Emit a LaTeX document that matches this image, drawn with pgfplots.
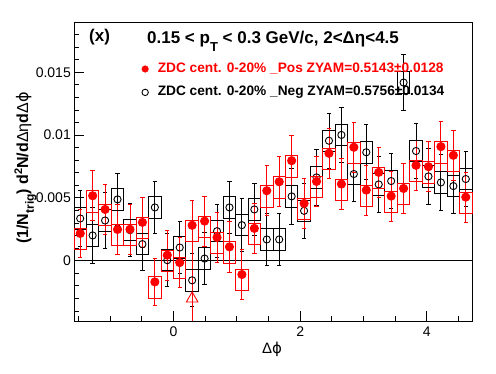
\documentclass[border=0pt]{standalone}
\usepackage{pgfplots}
\pgfplotsset{compat=1.18}
\usepackage{pgfplotstable}
\usepackage{fontspec}
\setmainfont{Liberation Sans}
\newfontfamily\djs{DejaVu Sans}

% x = bin centre, y = value, ep/em = stat. error, su/sd = box extent above/below
\pgfplotstableread{
x y ep em su sd
-1.4726 0.00217 0.0019 0.0019 0.0004 0.0013
-1.2763 0.00517 0.0020 0.0020 0.0004 0.0013
-1.0799 0.00408 0.0020 0.0020 0.0004 0.0013
-0.8836 0.00249 0.0020 0.0020 0.0004 0.0013
-0.6872 0.00250 0.0020 0.0020 0.0004 0.0013
-0.4909 0.00305 0.0020 0.0020 0.0004 0.0013
-0.2945 -0.00169 0.0019 0.0019 0.0004 0.0013
-0.0982 0.00044 0.0020 0.0020 0.0004 0.0013
0.0982 -0.00015 0.0020 0.0020 0.0004 0.0013
0.2945 0.00282 0.0020 0.0085 0.0004 0.0013
0.4909 0.00315 0.0020 0.0020 0.0004 0.0013
0.6872 0.00185 0.0020 0.0020 0.0004 0.0013
0.8836 0.00110 0.0020 0.0020 0.0004 0.0013
1.0799 -0.00110 0.0020 0.0020 0.0004 0.0013
1.2763 0.00257 0.0020 0.0020 0.0004 0.0013
1.4726 0.00557 0.0020 0.0020 0.0004 0.0013
1.6690 0.00628 0.0020 0.0020 0.0004 0.0013
1.8653 0.00796 0.0020 0.0020 0.0004 0.0013
2.0617 0.00456 0.0020 0.0020 0.0004 0.0013
2.2580 0.00631 0.0020 0.0020 0.0004 0.0013
2.4544 0.00855 0.0020 0.0020 0.0004 0.0013
2.6507 0.00610 0.0020 0.0020 0.0004 0.0013
2.8471 0.00903 0.0020 0.0020 0.0004 0.0013
3.0434 0.00562 0.0020 0.0020 0.0004 0.0013
3.2398 0.00703 0.0020 0.0020 0.0004 0.0013
3.4361 0.00514 0.0020 0.0020 0.0004 0.0013
3.6325 0.00575 0.0020 0.0020 0.0004 0.0013
3.8288 0.00759 0.0020 0.0020 0.0004 0.0013
4.0252 0.00748 0.0020 0.0020 0.0004 0.0013
4.2215 0.00908 0.0020 0.0020 0.0004 0.0013
4.4179 0.00839 0.0020 0.0020 0.0004 0.0013
4.6142 0.00506 0.0020 0.0020 0.0004 0.0013
}\posdata

\pgfplotstableread{
x y ep em su sd
-1.4726 0.00336 0.0022 0.0022 0.00085 0.00085
-1.2763 0.00201 0.0022 0.0022 0.00085 0.00085
-1.0799 0.00320 0.0022 0.0022 0.00085 0.00085
-0.8836 0.00488 0.0021 0.0021 0.00085 0.00085
-0.6872 0.00243 0.0021 0.0021 0.00085 0.00085
-0.4909 0.00132 0.0021 0.0021 0.00085 0.00085
-0.2945 0.00424 0.0021 0.0021 0.00085 0.00085
-0.0982 0.00004 0.0021 0.0021 0.00085 0.00085
0.0982 0.00105 0.0021 0.0021 0.00085 0.00085
0.2945 -0.00156 0.0021 0.0021 0.00085 0.00085
0.4909 0.00017 0.0021 0.0021 0.00085 0.00085
0.6872 0.00235 0.0021 0.0021 0.00085 0.00085
0.8836 0.00424 0.0021 0.0021 0.00085 0.00085
1.0799 0.00283 0.0021 0.0021 0.00085 0.00085
1.2763 0.00408 0.0021 0.0021 0.00085 0.00085
1.4726 0.00169 0.0021 0.0021 0.00085 0.00085
1.6690 0.00169 0.0021 0.0021 0.00085 0.00085
1.8653 0.00512 0.0022 0.0022 0.00085 0.00085
2.0617 0.00397 0.0022 0.0022 0.00085 0.00085
2.2580 0.00663 0.0022 0.0022 0.00085 0.00085
2.4544 0.00955 0.0022 0.0022 0.00085 0.00085
2.6507 0.01001 0.0022 0.0022 0.00085 0.00085
2.8471 0.00690 0.0022 0.0022 0.00085 0.00085
3.0434 0.00863 0.0022 0.0022 0.00085 0.00085
3.2398 0.00607 0.0022 0.0022 0.00085 0.00085
3.4361 0.00634 0.0022 0.0022 0.00085 0.00085
3.6325 0.01418 0.0022 0.0022 0.00085 0.00085
3.8288 0.00873 0.0022 0.0022 0.00085 0.00085
4.0252 0.00671 0.0022 0.0022 0.00085 0.00085
4.2215 0.00623 0.0022 0.0022 0.00085 0.00085
4.4179 0.00594 0.0022 0.0022 0.00085 0.00085
4.6142 0.00650 0.0022 0.0022 0.00085 0.00085
}\negdata

% systematic box drawn around each point (12563 pt per y unit: 299pt / 0.0238)
\pgfdeclareplotmark{sysbox}{%
  \pgfpathrectangle{\pgfpoint{-6.22pt}{\boxlo pt}}{\pgfpoint{12.44pt}{\boxh pt}}%
  \pgfusepathqstroke}

\begin{document}
\begin{tikzpicture}[x=1pt,y=1pt]
\useasboundingbox (0,0) rectangle (496,374);
\begin{axis}[
  at={(74pt,53pt)}, anchor=south west,
  scale only axis, width=398pt, height=299pt,
  xmin=-1.5708, xmax=4.7124, ymin=-0.0048, ymax=0.019,
  axis line style={line width=0.9pt},
  tick pos=left, tick align=inside,
  major tick length=10pt, minor tick length=5pt,
  every tick/.style={black, line width=0.8pt},
  xtick={0,2,4}, xticklabels={0,2,4},
  minor xtick={-1.5,-1,-0.5,0.5,1,1.5,2.5,3,3.5,4.5},
  ytick={0,0.005,0.01,0.015}, yticklabels={0,0.005,0.01,0.015},
  minor ytick={-0.004,-0.003,-0.002,-0.001,0.001,0.002,0.003,0.004,0.006,0.007,0.008,0.009,0.011,0.012,0.013,0.014,0.016,0.017,0.018},
  scaled y ticks=false,
  ticklabel style={font=\fontsize{14}{16}\selectfont},
  yticklabel style={anchor=east, inner sep=0pt, xshift=-3pt},
  xticklabel style={anchor=north, inner sep=0pt, yshift=-5.5pt},
  legend image code/.code={\draw[mark repeat=2,mark phase=2,#1] plot coordinates {(0pt,0pt) (5pt,0pt) (10pt,0pt)};},
  legend style={at={(0.170,0.8652)}, anchor=north west, draw=none, fill=none,
    inner sep=0pt, column sep=9.3pt, row sep=10.4pt,
    font=\bfseries\fontsize{13.7}{16}\selectfont,
    nodes={inner sep=0pt, text height=10pt, text depth=3pt}},
  legend cell align=left,
]
% zero line
\addplot[black, line width=0.9pt, forget plot] coordinates {(-1.5708,0) (4.7124,0)};

% Neg: boxes, error bars, markers
\addplot[black, line width=0.9pt, only marks, mark=sysbox, forget plot,
  visualization depends on={-12563*\thisrow{sd} \as \boxlo},
  visualization depends on={12563*(\thisrow{su}+\thisrow{sd}) \as \boxh}]
  table[x=x, y=y] {\negdata};
\addplot[black, line width=0.9pt, only marks, mark=o, mark size=3.6pt,
  mark options={fill=white}, forget plot,
  error bars/.cd, y dir=both, y explicit,
  error bar style={line width=0.9pt},
  error mark options={rotate=90, mark size=2.2pt, line width=0.9pt}]
  table[x=x, y=y, y error plus=ep, y error minus=em] {\negdata};

% Pos: boxes, error bars, markers
\addplot[red, line width=0.9pt, only marks, mark=sysbox, forget plot,
  visualization depends on={-12563*\thisrow{sd} \as \boxlo},
  visualization depends on={12563*(\thisrow{su}+\thisrow{sd}) \as \boxh}]
  table[x=x, y=y] {\posdata};
\addplot[red, line width=0.9pt, only marks, mark=*, mark size=4.1pt, forget plot,
  error bars/.cd, y dir=both, y explicit,
  error bar style={line width=0.9pt},
  error mark options={rotate=90, mark size=2.2pt, line width=0.9pt}]
  table[x=x, y=y, y error plus=ep, y error minus=em] {\posdata};

% open triangle marker below the Pos point at 0.29
\addplot[red, line width=0.9pt, only marks, mark=triangle, mark size=6.7pt, forget plot]
  coordinates {(0.2945,-0.00302)};

\addlegendimage{only marks, mark=*, red, mark size=3.3pt}
\addlegendentry{\textcolor{red}{ZDC cent. 0-20\% \_Pos ZYAM=0.5143±0.0128}}
\addlegendimage{only marks, mark=o, black, mark size=3.2pt, line width=0.9pt}
\addlegendentry{ZDC cent. 0-20\% \_Neg ZYAM=0.5756±0.0134}
\end{axis}

% titles and axis labels
\node[anchor=base west, inner sep=0pt, font=\bfseries\fontsize{17}{20}\selectfont] at (89,332) {(x)};
\node[anchor=base west, inner sep=0pt, font=\bfseries\fontsize{17}{20}\selectfont] at (147,330.7)
  {0.15 < p\raisebox{-8pt}{\fontsize{13}{13}\selectfont T} < 0.3 GeV/c, 2<Δη<4.5};
\node[anchor=base, inner sep=0pt, rotate=90, font=\bfseries\fontsize{16}{19}\selectfont] at (28,206)
  {(1/N\raisebox{-6pt}{\fontsize{12}{12}\selectfont trig}) d\raisebox{6pt}{\fontsize{11}{11}\selectfont 2}N/d{\mdseries Δη}d{\mdseries Δ{\djs ϕ}}};
\node[anchor=base, inner sep=0pt, font=\fontsize{15}{18}\selectfont] at (272,20) {Δ{\djs ϕ}};
\end{tikzpicture}
\end{document}
